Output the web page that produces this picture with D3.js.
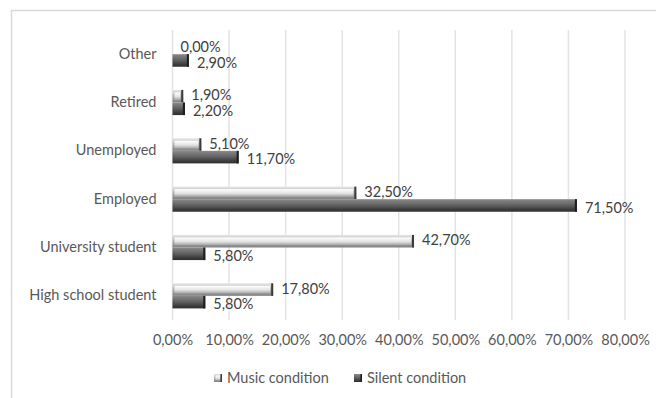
<!DOCTYPE html>
<html>
<head>
<meta charset="utf-8">
<script src="https://cdn.jsdelivr.net/npm/d3@7"></script>
<style>
  html, body { margin: 0; padding: 0; background: #fff; }
  svg { display: block; font-family: Lato, "Open Sans", sans-serif; }
</style>
</head>
<body>
<svg id="chart" width="656" height="398"></svg>
<script>
// Occupation categories, top to bottom
const categories = ["Other", "Retired", "Unemployed", "Employed", "University student", "High school student"];
// Share of participants (%) per condition
const musicValues  = [0.0, 1.9, 5.1, 32.5, 42.7, 17.8];
const silentValues = [2.9, 2.2, 11.7, 71.5, 5.8, 5.8];
const seriesNames  = ["Music condition", "Silent condition"];
const xTicks = [0, 10, 20, 30, 40, 50, 60, 70, 80];

const fmt = v => v.toFixed(2).replace(".", ",") + "%";
const FS = 14.5;
const FONT = "Lato, sans-serif";

const svg = d3.select("#chart");
const plot = { left: 172.5, right: 625, top: 30, bottom: 320 };

// Outer chart frame
svg.append("rect")
  .attr("x", 11.5).attr("y", 10.5)
  .attr("width", 700).attr("height", 420)
  .attr("fill", "#fff").attr("stroke", "#d9d9d9").attr("stroke-width", 1.5);

const x = d3.scaleLinear().domain([0, 80]).range([plot.left, plot.right]);
const y = d3.scaleBand().domain(categories).range([plot.top, plot.bottom]).paddingInner(0.48).paddingOuter(0.24);
const sub = d3.scaleBand().domain(seriesNames).range([0, y.bandwidth()]);

// Gradients giving the bevelled look of the bars
const defs = svg.append("defs");
function grad(id, stops) {
  const g = defs.append("linearGradient").attr("id", id)
    .attr("x1", 0).attr("y1", 0).attr("x2", 0).attr("y2", 1);
  stops.forEach(([o, c]) => g.append("stop").attr("offset", o).attr("stop-color", c));
}
grad("musicOuter", [[0, "#e6e6e6"], [0.5, "#b3b3b3"], [1, "#7f7f7f"]]);
grad("musicInner", [[0, "#ffffff"], [0.55, "#e3e3e3"], [1, "#a6a6a6"]]);
grad("silentOuter", [[0, "#8c8c8c"], [0.5, "#555555"], [1, "#2e2e2e"]]);
grad("silentInner", [[0, "#7a7a7a"], [0.55, "#5c5c5c"], [1, "#3d3d3d"]]);

const styles = {
  "Music condition":  { outer: "url(#musicOuter)",  inner: "url(#musicInner)",  cap: "#3a3a3a" },
  "Silent condition": { outer: "url(#silentOuter)", inner: "url(#silentInner)", cap: "#1e1e1e" }
};

// Vertical gridlines
svg.append("g").selectAll("line").data(xTicks).join("line")
  .attr("x1", d => x(d)).attr("x2", d => x(d))
  .attr("y1", plot.top).attr("y2", plot.bottom)
  .attr("stroke", "#e3e3e3").attr("stroke-width", 1.5);

// X axis tick labels
const xAxis = d3.axisBottom(x).tickValues(xTicks).tickFormat(fmt).tickSize(0).tickPadding(0);
const gx = svg.append("g").attr("transform", `translate(0,${plot.bottom + 15})`).call(xAxis);
gx.select(".domain").remove();
gx.selectAll("text").attr("fill", "#595959").attr("font-size", FS).attr("font-family", FONT);

// Y axis category labels
const yAxis = d3.axisLeft(y).tickSize(0).tickPadding(16);
const gy = svg.append("g").attr("transform", `translate(${plot.left},0)`).call(yAxis);
gy.select(".domain").remove();
gy.selectAll("text").attr("fill", "#595959").attr("font-size", FS).attr("font-family", FONT);

// Bars
const rows = categories.map((c, i) => ({
  cat: c,
  values: [
    { s: seriesNames[0], v: musicValues[i] },
    { s: seriesNames[1], v: silentValues[i] }
  ]
}));

const rowG = svg.append("g").selectAll("g").data(rows).join("g")
  .attr("transform", d => `translate(0,${y(d.cat)})`);

const barG = rowG.selectAll("g").data(d => d.values).join("g")
  .attr("transform", d => `translate(0,${sub(d.s)})`);

const bh = sub.bandwidth();
barG.filter(d => d.v > 0).each(function(d) {
  const g = d3.select(this);
  const w = x(d.v) - x(0);
  const st = styles[d.s];
  g.append("rect").attr("x", x(0)).attr("y", 0).attr("width", w).attr("height", bh)
    .attr("fill", st.outer);
  if (w > 6) {
    g.append("rect").attr("x", x(0) + 2).attr("y", 2.5).attr("width", w - 5).attr("height", bh - 5)
      .attr("fill", st.inner);
  }
  g.append("rect").attr("x", x(0) + w - 2).attr("y", 0).attr("width", 2).attr("height", bh)
    .attr("fill", st.cap);
});

// Value labels
barG.append("text")
  .attr("x", d => x(d.v) + 8)
  .attr("y", (d, i) => bh / 2 + (i === 0 ? -1 : 2))
  .attr("dy", "0.35em")
  .attr("fill", "#404040").attr("font-size", FS).attr("font-family", FONT)
  .text(d => fmt(d.v));

// Legend
const legend = svg.append("g").attr("transform", "translate(0,378)");
const legendItems = [
  { s: seriesNames[0], x: 214 },
  { s: seriesNames[1], x: 354 }
];
legendItems.forEach(it => {
  const st = styles[it.s];
  const g = legend.append("g").attr("transform", `translate(${it.x},0)`);
  g.append("rect").attr("x", 0).attr("y", -4).attr("width", 8).attr("height", 8).attr("fill", st.outer);
  g.append("rect").attr("x", 1.5).attr("y", -2.5).attr("width", 4.5).attr("height", 5).attr("fill", st.inner);
  g.append("rect").attr("x", 6.5).attr("y", -4).attr("width", 1.5).attr("height", 8).attr("fill", st.cap);
  g.append("text").attr("x", 13).attr("y", 0).attr("dy", "0.35em")
    .attr("fill", "#595959").attr("font-size", FS).attr("font-family", FONT)
    .text(it.s);
});
</script>
</body>
</html>
